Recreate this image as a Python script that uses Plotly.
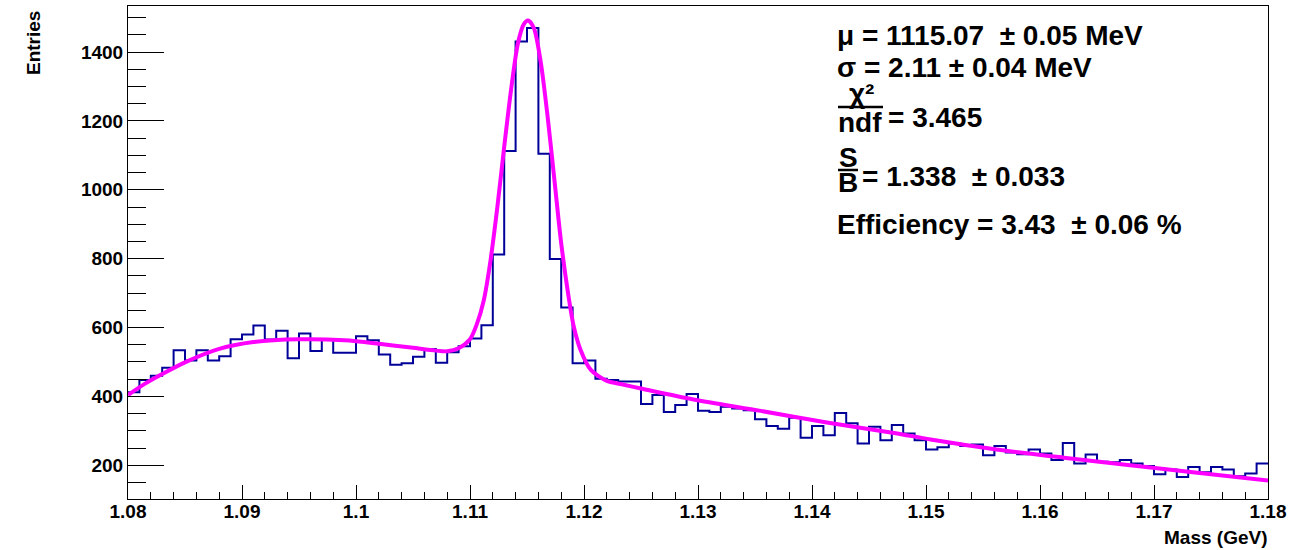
import numpy as np
import plotly.graph_objects as go

# ---------------- data ----------------
bin_low = 1.08
bin_width = 0.001
counts = [412, 448, 460, 483, 534, 504, 534, 504, 517, 566,
          580, 606, 565, 591, 511, 583, 532, 566, 527, 527,
          575, 563, 522, 492, 496, 515, 538, 498, 528, 546,
          568, 607, 812, 1113, 1431, 1470, 1105, 799, 658, 496,
          504, 451, 448, 443, 443, 378, 404, 355, 375, 407,
          358, 355, 370, 365, 360, 334, 314, 306, 338, 280,
          314, 287, 352, 322, 263, 312, 273, 317, 292, 273,
          246, 252, 263, 256, 260, 229, 256, 237, 232, 246,
          234, 215, 265, 205, 231, 210, 209, 215, 205, 198,
          174, 188, 166, 195, 180, 195, 188, 168, 176, 205]

fit_x = [1.0800, 1.0815, 1.0830, 1.0850, 1.0880, 1.0910, 1.0950, 1.0990,
         1.1020, 1.1050, 1.1070, 1.1080, 1.1090, 1.1100, 1.1106, 1.1112,
         1.1118, 1.1124, 1.1130, 1.1136, 1.1142, 1.1147, 1.1151, 1.1156,
         1.1162, 1.1168, 1.1174, 1.1180, 1.1186, 1.1191, 1.1197, 1.1206,
         1.1220, 1.1232, 1.1250, 1.1296, 1.1355, 1.1413, 1.1472, 1.1504,
         1.1562, 1.1621, 1.1679, 1.1738, 1.1800]
fit_y = [404, 437, 465, 499, 538, 558, 566, 563,
         553, 541, 533, 531, 540, 566, 610, 678,
         795, 950, 1125, 1290, 1425, 1480, 1492, 1470,
         1372, 1215, 1030, 845, 700, 603, 535, 477,
         445, 436, 423, 391, 358, 324, 294, 275,
         246, 222, 200, 178, 156]

x_tick_vals = [1.08, 1.09, 1.10, 1.11, 1.12, 1.13, 1.14, 1.15, 1.16, 1.17, 1.18]
x_tick_text = ["1.08", "1.09", "1.1", "1.11", "1.12", "1.13", "1.14", "1.15", "1.16", "1.17", "1.18"]
y_tick_vals = [200, 400, 600, 800, 1000, 1200, 1400]
y_tick_text = ["200", "400", "600", "800", "1000", "1200", "1400"]

NB = "\u00a0"
stats_lines = ["μ = 1115.07" + NB + " ± 0.05 MeV", "σ = 2.11 ± 0.04 MeV"]
chi2_num, chi2_den, chi2_val = "χ²", "ndf", "= 3.465"
sb_num, sb_den, sb_val = "S", "B", "= 1.338" + NB + " ± 0.033"
eff_line = "Efficiency = 3.43" + NB + " ± 0.06 %"

# ---------------- layout geometry ----------------
W, H = 1291, 550
L, R, T, B = 128, 1268, 6, 499

def px2x(px):
    return (px - L) / (R - L)

def py2y(py):
    return (B - py) / (B - T)

FONT = "Liberation Sans, Arial, Helvetica, sans-serif"

edges = bin_low + bin_width * np.arange(len(counts) + 1)
step_y = counts + [counts[-1]]

fig = go.Figure()
fig.add_trace(go.Scatter(
    x=edges, y=step_y, mode="lines", line=dict(color="#000099", width=2, shape="hv"),
    hoverinfo="skip", showlegend=False))
fig.add_trace(go.Scatter(
    x=fit_x, y=fit_y, mode="lines",
    line=dict(color="#FF00FF", width=4, shape="spline", smoothing=0.8),
    hoverinfo="skip", showlegend=False))

tickfont = dict(family=FONT, size=19, color="black", weight="bold")

fig.update_layout(
    width=W, height=H,
    margin=dict(l=L, r=W - R, t=T, b=H - B),
    paper_bgcolor="white", plot_bgcolor="white",
    showlegend=False,
    xaxis=dict(range=[1.08, 1.18], tickmode="array", tickvals=x_tick_vals, ticktext=x_tick_text,
               ticks="inside", ticklen=14, tickwidth=1, tickcolor="black",
               minor=dict(ticks="inside", ticklen=7, dtick=0.002, tick0=1.08, tickcolor="black", tickwidth=1),
               showline=True, linecolor="black", linewidth=1, mirror=True,
               showgrid=False, zeroline=False, tickfont=tickfont, ticklabelstandoff=-5),
    yaxis=dict(range=[102, 1534], tickmode="array", tickvals=y_tick_vals, ticktext=y_tick_text,
               ticks="inside", ticklen=36, tickwidth=1, tickcolor="black",
               minor=dict(ticks="inside", ticklen=18, dtick=50, tick0=0, tickcolor="black", tickwidth=1),
               showline=True, linecolor="black", linewidth=1, mirror=True,
               showgrid=False, zeroline=False, tickfont=tickfont),
)

ann = []
sfont = dict(family=FONT, size=28, color="black", weight="bold")

def add_text(text, px, py, xanchor="left", font=sfont, angle=0, yanchor="middle"):
    ann.append(dict(text=text, x=px2x(px), y=py2y(py), xref="paper", yref="paper",
                    xanchor=xanchor, yanchor=yanchor, showarrow=False, font=font,
                    textangle=angle, borderpad=0))

add_text(stats_lines[0], 836, 35)
add_text(stats_lines[1], 836, 67)
add_text(chi2_num, 861, 93, xanchor="center")
add_text(chi2_den, 860, 122, xanchor="center")
add_text(chi2_val, 887, 117)
add_text(sb_num, 848, 157, xanchor="center")
add_text(sb_den, 848, 183, xanchor="center")
add_text(sb_val, 861, 176)
add_text(eff_line, 836, 224)

tfont = dict(family=FONT, size=19, color="black", weight="bold")
add_text("Entries", 33, 10, xanchor="center", yanchor="top", font=tfont, angle=-90)
add_text("Mass (GeV)", 1268, 537, xanchor="right", font=tfont)

fig.update_layout(annotations=ann)

shapes = [
    dict(type="line", xref="paper", yref="paper", x0=px2x(838), x1=px2x(883), y0=py2y(107), y1=py2y(107),
         line=dict(color="black", width=2.5)),
    dict(type="line", xref="paper", yref="paper", x0=px2x(838), x1=px2x(858), y0=py2y(170), y1=py2y(170),
         line=dict(color="black", width=2.5)),
]
fig.update_layout(shapes=shapes)

fig.write_html("out.html")
